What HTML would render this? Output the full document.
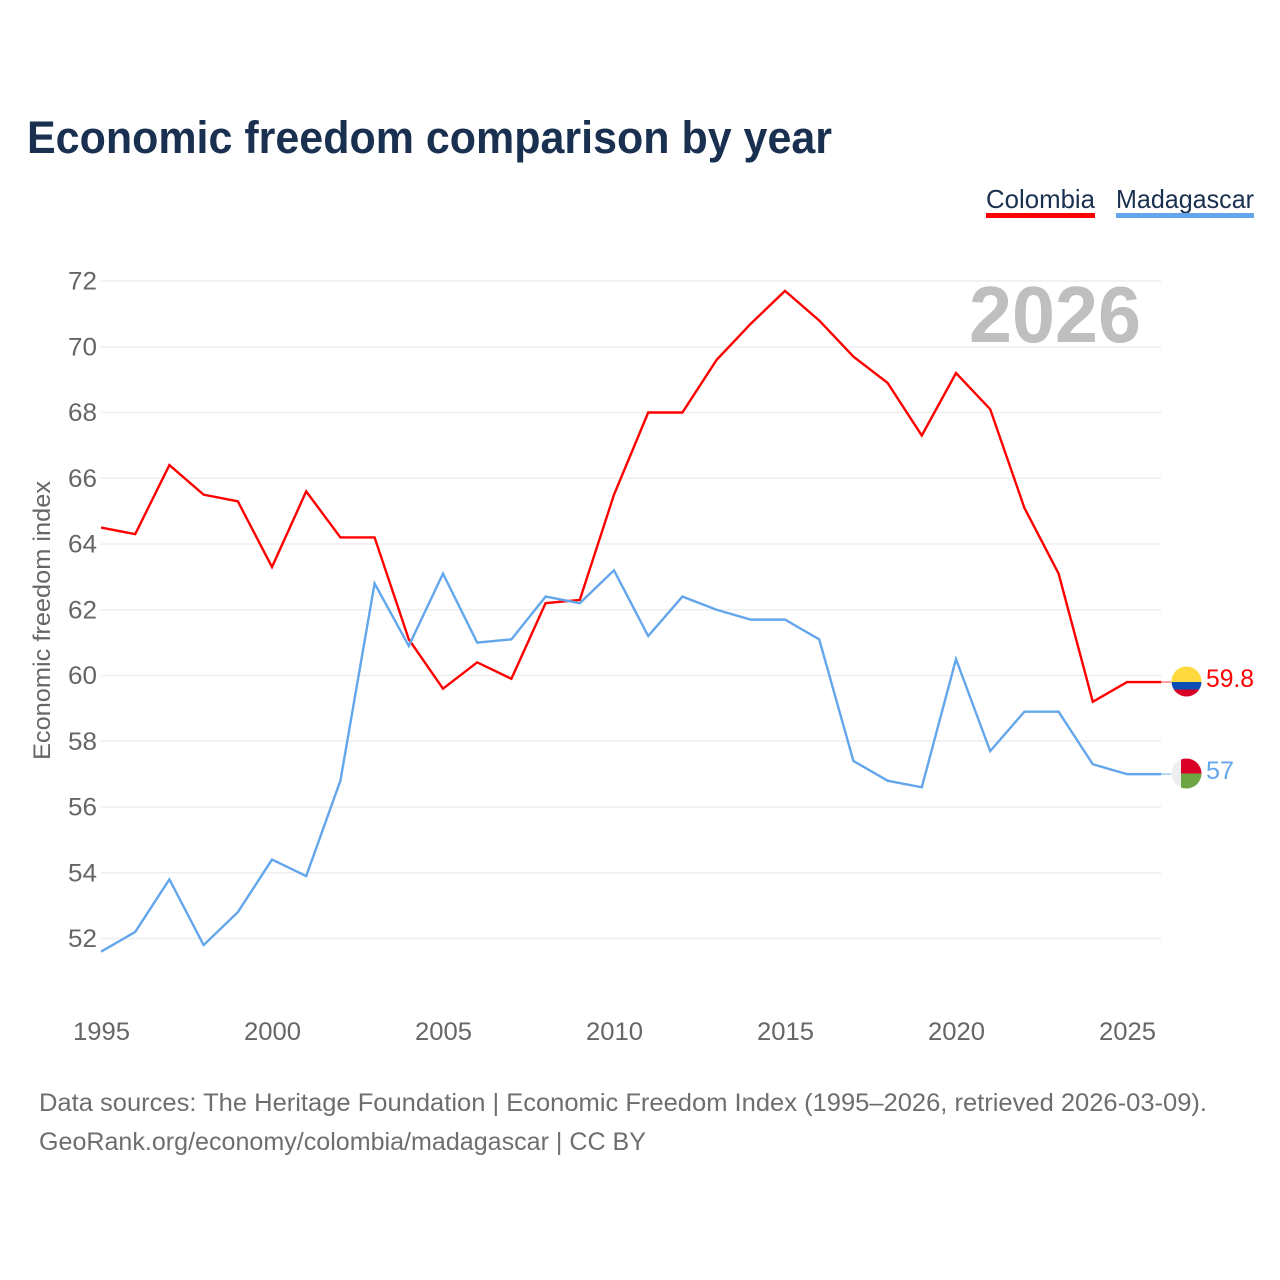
<!DOCTYPE html>
<html lang="en">
<head>
<meta charset="utf-8">
<title>Economic freedom comparison by year</title>
<style>
html,body{margin:0;padding:0;background:#fff;width:1280px;height:1280px;overflow:hidden}
svg{display:block;font-family:"Liberation Sans",sans-serif}
</style>
</head>
<body>
<svg id="chart" width="1280" height="1280" viewBox="0 0 1280 1280" xmlns="http://www.w3.org/2000/svg">
  <rect width="1280" height="1280" fill="#fff"/>
  <text x="27" y="153" font-size="45" font-weight="700" fill="#1a3050" textLength="805" lengthAdjust="spacingAndGlyphs">Economic freedom comparison by year</text>
  <g>
    <text x="986" y="208" font-size="26" fill="#1a3050" textLength="109" lengthAdjust="spacingAndGlyphs">Colombia</text>
    <rect x="986" y="213" width="109" height="5" fill="#ff0000"/>
  </g>
  <g>
    <text x="1116" y="208" font-size="26" fill="#1a3050" textLength="138" lengthAdjust="spacingAndGlyphs">Madagascar</text>
    <rect x="1116" y="213" width="138" height="5" fill="#63a6ec"/>
  </g>
  <g id="grid"></g>
  <text x="969" y="342" font-size="80" font-weight="700" fill="#bfbfbf" textLength="172" lengthAdjust="spacingAndGlyphs">2026</text>
  <g id="yticks"></g>
  <g id="xticks"></g>
  <text transform="translate(50,760) rotate(-90)" font-size="24" fill="#666" textLength="279" lengthAdjust="spacingAndGlyphs">Economic freedom index</text>
  <g id="series"></g>
  <defs>
    <clipPath id="clip-co"><circle cx="1186.5" cy="681.5" r="15"/></clipPath>
    <clipPath id="clip-mg"><circle cx="1186.5" cy="773.5" r="15"/></clipPath>
  </defs>
  <g clip-path="url(#clip-co)">
    <rect x="1171" y="666" width="31" height="16" fill="#ffd83d"/>
    <rect x="1171" y="682" width="31" height="7.5" fill="#0a50b4"/>
    <rect x="1171" y="689.5" width="31" height="8" fill="#d80027"/>
  </g>
  <g clip-path="url(#clip-mg)">
    <rect x="1171" y="758" width="10" height="31" fill="#eeeeee"/>
    <rect x="1181" y="758" width="21" height="15.5" fill="#d80027"/>
    <rect x="1181" y="773.5" width="21" height="16" fill="#6da544"/>
  </g>
  <text x="1206" y="687" font-size="25" fill="#ff0000" textLength="48" lengthAdjust="spacingAndGlyphs">59.8</text>
  <text x="1206" y="779" font-size="25" fill="#63a6ec" textLength="28" lengthAdjust="spacingAndGlyphs">57</text>
  <text x="39" y="1111" font-size="25" fill="#6e6e6e" textLength="1168" lengthAdjust="spacingAndGlyphs">Data sources: The Heritage Foundation | Economic Freedom Index (1995–2026, retrieved 2026-03-09).</text>
  <text x="39" y="1150" font-size="25" fill="#6e6e6e" textLength="607" lengthAdjust="spacingAndGlyphs">GeoRank.org/economy/colombia/madagascar | CC BY</text>
</svg>
<script>
const years = [1995,1996,1997,1998,1999,2000,2001,2002,2003,2004,2005,2006,2007,2008,2009,2010,2011,2012,2013,2014,2015,2016,2017,2018,2019,2020,2021,2022,2023,2024,2025,2026];
const colombia = [64.5,64.3,66.4,65.5,65.3,63.3,65.6,64.2,64.2,61.1,59.6,60.4,59.9,62.2,62.3,65.5,68.0,68.0,69.6,70.7,71.7,70.8,69.7,68.9,67.3,69.2,68.1,65.1,63.1,59.2,59.8,59.8];
const madagascar = [51.6,52.2,53.8,51.8,52.8,54.4,53.9,56.8,62.8,60.9,63.1,61.0,61.1,62.4,62.2,63.2,61.2,62.4,62.0,61.7,61.7,61.1,57.4,56.8,56.6,60.5,57.7,58.9,58.9,57.3,57.0,57.0];
const yTickLabels = [52,54,56,58,60,62,64,66,68,70,72];
const xTickLabels = [1995,2000,2005,2010,2015,2020,2025];

const NS = 'http://www.w3.org/2000/svg';
const xScale = function (year) { return 101 + (year - 1995) * 34.2; };
const yScale = function (value) { return 281 + (72 - value) * 32.875; };
const grid = document.getElementById('grid');
const yticks = document.getElementById('yticks');
const xticks = document.getElementById('xticks');
const series = document.getElementById('series');

yTickLabels.forEach(function (tick) {
  const line = document.createElementNS(NS, 'line');
  
  
  line.setAttribute('x1', xScale(1995));
  line.setAttribute('x2', xScale(2026));
  line.setAttribute('y1', yScale(tick));
  line.setAttribute('y2', yScale(tick));
  line.setAttribute('stroke', '#eeeeee');
  line.setAttribute('stroke-width', '1.5');
  grid.appendChild(line);

  const label = document.createElementNS(NS, 'text');
  
  
  label.setAttribute('x', '68');
  label.setAttribute('y', yScale(tick) + 8.5);
  label.setAttribute('font-size', '25');
  label.setAttribute('fill', '#666');
  label.setAttribute('textLength', '29');
  label.setAttribute('lengthAdjust', 'spacingAndGlyphs');
  label.textContent = tick;
  yticks.appendChild(label);
});

xTickLabels.forEach(function (tick) {
  const label = document.createElementNS(NS, 'text');
  
  
  label.setAttribute('x', xScale(tick) - 28);
  label.setAttribute('y', '1040');
  label.setAttribute('font-size', '25');
  label.setAttribute('fill', '#666');
  label.setAttribute('textLength', '57');
  label.setAttribute('lengthAdjust', 'spacingAndGlyphs');
  label.textContent = tick;
  xticks.appendChild(label);
});

function pointsFor(values) {
  return values.map(function (v, i) { return xScale(years[i]) + ',' + yScale(v); }).join(' ');
}

const colombiaLine = document.createElementNS(NS, 'polyline');


colombiaLine.setAttribute('points', pointsFor(colombia));
colombiaLine.setAttribute('fill', 'none');
colombiaLine.setAttribute('stroke', '#ff0000');
colombiaLine.setAttribute('stroke-width', '2.4');
series.appendChild(colombiaLine);

const madagascarLine = document.createElementNS(NS, 'polyline');


madagascarLine.setAttribute('points', pointsFor(madagascar));
madagascarLine.setAttribute('fill', 'none');
madagascarLine.setAttribute('stroke', '#63a6ec');
madagascarLine.setAttribute('stroke-width', '2.4');
series.appendChild(madagascarLine);

const colombiaLeader = document.createElementNS(NS, 'line');


colombiaLeader.setAttribute('x1', xScale(2026));
colombiaLeader.setAttribute('x2', xScale(2026) + 10);
colombiaLeader.setAttribute('y1', yScale(colombia[colombia.length - 1]));
colombiaLeader.setAttribute('y2', yScale(colombia[colombia.length - 1]));
colombiaLeader.setAttribute('stroke', '#ff0000');
colombiaLeader.setAttribute('stroke-opacity', '0.5');
colombiaLeader.setAttribute('stroke-width', '1.5');
series.appendChild(colombiaLeader);

const madagascarLeader = document.createElementNS(NS, 'line');


madagascarLeader.setAttribute('x1', xScale(2026));
madagascarLeader.setAttribute('x2', xScale(2026) + 10);
madagascarLeader.setAttribute('y1', yScale(madagascar[madagascar.length - 1]));
madagascarLeader.setAttribute('y2', yScale(madagascar[madagascar.length - 1]));
madagascarLeader.setAttribute('stroke', '#63a6ec');
madagascarLeader.setAttribute('stroke-opacity', '0.6');
madagascarLeader.setAttribute('stroke-width', '1.5');
series.appendChild(madagascarLeader);
</script>
</body>
</html>
